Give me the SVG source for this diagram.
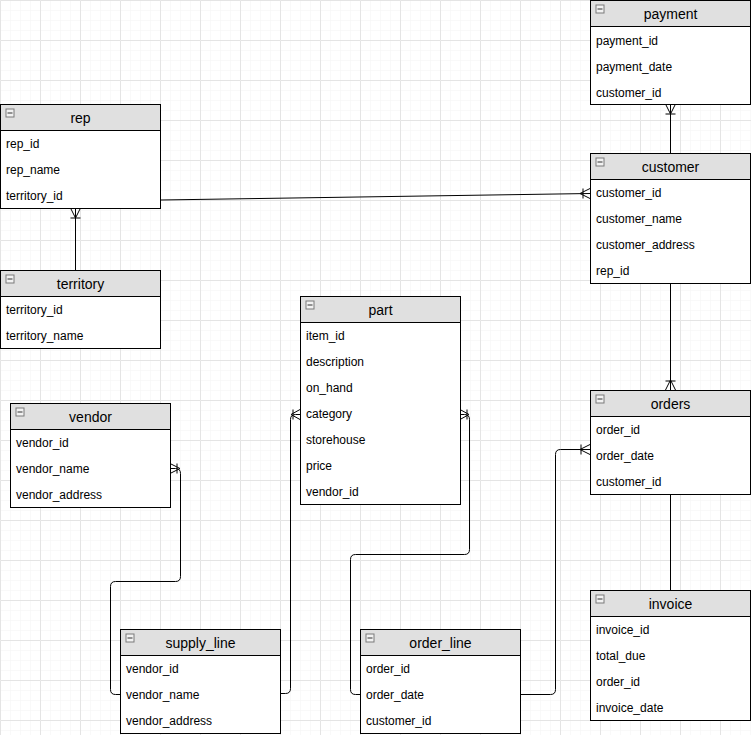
<svg xmlns="http://www.w3.org/2000/svg" width="751" height="735" viewBox="0 0 751 735">
<style>
.box{fill:#ffffff;stroke:#000000;stroke-width:1}
.hdr{fill:#e0e0e0;stroke:#000000;stroke-width:1}
.ttl{font-family:"Liberation Sans",Arial,sans-serif;font-size:14px;fill:#000000;text-anchor:middle}
.row{font-family:"Liberation Sans",Arial,sans-serif;font-size:12px;fill:#000000}
.ico{fill:#f2f2f2;stroke:#7a7a7a;stroke-width:1}
.icm{stroke:#333333;stroke-width:1}
.ln{fill:none;stroke:#000000;stroke-width:1}
</style>
<defs>
<pattern id="minor" width="10" height="10" patternUnits="userSpaceOnUse">
<path d="M10 0 L0 0 L0 10" fill="none" stroke="#f3f3f3" stroke-width="1"/>
</pattern>
<pattern id="major" width="40" height="40" patternUnits="userSpaceOnUse">
<rect width="40" height="40" fill="url(#minor)"/>
<path d="M40 0.5 L0.5 0.5 L0.5 40" fill="none" stroke="#e4e4e4" stroke-width="1"/>
</pattern>
<g id="icon"><rect class="ico" x="5.5" y="4.5" width="8" height="8"/><path class="icm" d="M7 8.5 H12"/></g>
</defs>
<rect width="751" height="735" fill="#ffffff"/>
<rect width="751" height="735" fill="url(#major)"/>

<g id="connectors">
<!-- payment - customer -->
<path class="ln" d="M670.5 104 V153"/>
<path class="ln" d="M665.5 104 L670.5 114 L675.5 104 M665.5 114 H675.5"/>
<!-- rep - territory -->
<path class="ln" d="M75.5 208 V270"/>
<path class="ln" d="M70.5 208 L75.5 218 L80.5 208 M70.5 218 H80.5"/>
<!-- rep - customer -->
<path class="ln" d="M160 200 L590 193.5"/>
<path class="ln" d="M590 188.5 L580 193.5 L590 198.5 M583 188.5 V198.5"/>
<!-- customer - orders -->
<path class="ln" d="M670.5 283 V390"/>
<path class="ln" d="M665.5 390 L670.5 380 L675.5 390 M665.5 381 H675.5"/>
<!-- orders - invoice -->
<path class="ln" d="M670.5 494 V590"/>
<!-- vendor - supply_line -->
<path class="ln" d="M120 694.5 H115.5 Q110.5 694.5 110.5 689.5 V586.5 Q110.5 581.5 115.5 581.5 H175.5 Q180.5 581.5 180.5 576.5 V473.5 Q180.5 468.5 175.5 468.5 H170"/>
<path class="ln" d="M170 463.5 L180 468.5 L170 473.5 M177 463.5 V473.5"/>
<!-- part - supply_line -->
<path class="ln" d="M280 693.5 H285.5 Q290.5 693.5 290.5 688.5 V419.5 Q290.5 414.5 295.5 414.5 H300"/>
<path class="ln" d="M300 409.5 L291 414.5 L300 419.5 M293 409.5 V419.5"/>
<!-- part - order_line -->
<path class="ln" d="M460 414.5 H464.5 Q469.5 414.5 469.5 419.5 V549.5 Q469.5 554.5 464.5 554.5 H355.5 Q350.5 554.5 350.5 559.5 V689.5 Q350.5 694.5 355.5 694.5 H360"/>
<path class="ln" d="M460 409.5 L469 414.5 L460 419.5 M467 409.5 V419.5"/>
<!-- order_line - orders -->
<path class="ln" d="M520 694.5 H550.5 Q555.5 694.5 555.5 689.5 V454.5 Q555.5 449.5 560.5 449.5 H590"/>
<path class="ln" d="M590 444.5 L580 449.5 L590 454.5 M581 444.5 V454.5"/>
</g>

<g id="payment" transform="translate(590.5,0.5)">
<rect class="box" x="0" y="0" width="160" height="104"/>
<rect class="hdr" x="0" y="0" width="160" height="26"/>
<use href="#icon"/>
<text class="ttl" x="80" y="18.5">payment</text>
<text class="row" x="5.5" y="44">payment_id</text>
<text class="row" x="5.5" y="70">payment_date</text>
<text class="row" x="5.5" y="96">customer_id</text>
</g>

<g id="rep" transform="translate(0.5,104.5)">
<rect class="box" x="0" y="0" width="160" height="104"/>
<rect class="hdr" x="0" y="0" width="160" height="26"/>
<use href="#icon"/>
<text class="ttl" x="80" y="18.5">rep</text>
<text class="row" x="5.5" y="43">rep_id</text>
<text class="row" x="5.5" y="69">rep_name</text>
<text class="row" x="5.5" y="95">territory_id</text>
</g>

<g id="customer" transform="translate(590.5,153.5)">
<rect class="box" x="0" y="0" width="160" height="130"/>
<rect class="hdr" x="0" y="0" width="160" height="26"/>
<use href="#icon"/>
<text class="ttl" x="80" y="18.5">customer</text>
<text class="row" x="5.5" y="43">customer_id</text>
<text class="row" x="5.5" y="69">customer_name</text>
<text class="row" x="5.5" y="95">customer_address</text>
<text class="row" x="5.5" y="121">rep_id</text>
</g>

<g id="territory" transform="translate(0.5,270.5)">
<rect class="box" x="0" y="0" width="160" height="78"/>
<rect class="hdr" x="0" y="0" width="160" height="26"/>
<use href="#icon"/>
<text class="ttl" x="80" y="18.5">territory</text>
<text class="row" x="5.5" y="43">territory_id</text>
<text class="row" x="5.5" y="69">territory_name</text>
</g>

<g id="part" transform="translate(300.5,296.5)">
<rect class="box" x="0" y="0" width="160" height="208"/>
<rect class="hdr" x="0" y="0" width="160" height="26"/>
<use href="#icon"/>
<text class="ttl" x="80" y="18.5">part</text>
<text class="row" x="5.5" y="43">item_id</text>
<text class="row" x="5.5" y="69">description</text>
<text class="row" x="5.5" y="95">on_hand</text>
<text class="row" x="5.5" y="121">category</text>
<text class="row" x="5.5" y="147">storehouse</text>
<text class="row" x="5.5" y="173">price</text>
<text class="row" x="5.5" y="199">vendor_id</text>
</g>

<g id="vendor" transform="translate(10.5,403.5)">
<rect class="box" x="0" y="0" width="160" height="104"/>
<rect class="hdr" x="0" y="0" width="160" height="26"/>
<use href="#icon"/>
<text class="ttl" x="80" y="18.5">vendor</text>
<text class="row" x="5.5" y="43">vendor_id</text>
<text class="row" x="5.5" y="69">vendor_name</text>
<text class="row" x="5.5" y="95">vendor_address</text>
</g>

<g id="orders" transform="translate(590.5,390.5)">
<rect class="box" x="0" y="0" width="160" height="104"/>
<rect class="hdr" x="0" y="0" width="160" height="26"/>
<use href="#icon"/>
<text class="ttl" x="80" y="18.5">orders</text>
<text class="row" x="5.5" y="43">order_id</text>
<text class="row" x="5.5" y="69">order_date</text>
<text class="row" x="5.5" y="95">customer_id</text>
</g>

<g id="invoice" transform="translate(590.5,590.5)">
<rect class="box" x="0" y="0" width="160" height="130"/>
<rect class="hdr" x="0" y="0" width="160" height="26"/>
<use href="#icon"/>
<text class="ttl" x="80" y="18.5">invoice</text>
<text class="row" x="5.5" y="43">invoice_id</text>
<text class="row" x="5.5" y="69">total_due</text>
<text class="row" x="5.5" y="95">order_id</text>
<text class="row" x="5.5" y="121">invoice_date</text>
</g>

<g id="supply_line" transform="translate(120.5,629.5)">
<rect class="box" x="0" y="0" width="160" height="104"/>
<rect class="hdr" x="0" y="0" width="160" height="26"/>
<use href="#icon"/>
<text class="ttl" x="80" y="18.5">supply_line</text>
<text class="row" x="5.5" y="43">vendor_id</text>
<text class="row" x="5.5" y="69">vendor_name</text>
<text class="row" x="5.5" y="95">vendor_address</text>
</g>

<g id="order_line" transform="translate(360.5,629.5)">
<rect class="box" x="0" y="0" width="160" height="104"/>
<rect class="hdr" x="0" y="0" width="160" height="26"/>
<use href="#icon"/>
<text class="ttl" x="80" y="18.5">order_line</text>
<text class="row" x="5.5" y="43">order_id</text>
<text class="row" x="5.5" y="69">order_date</text>
<text class="row" x="5.5" y="95">customer_id</text>
</g>
</svg>
